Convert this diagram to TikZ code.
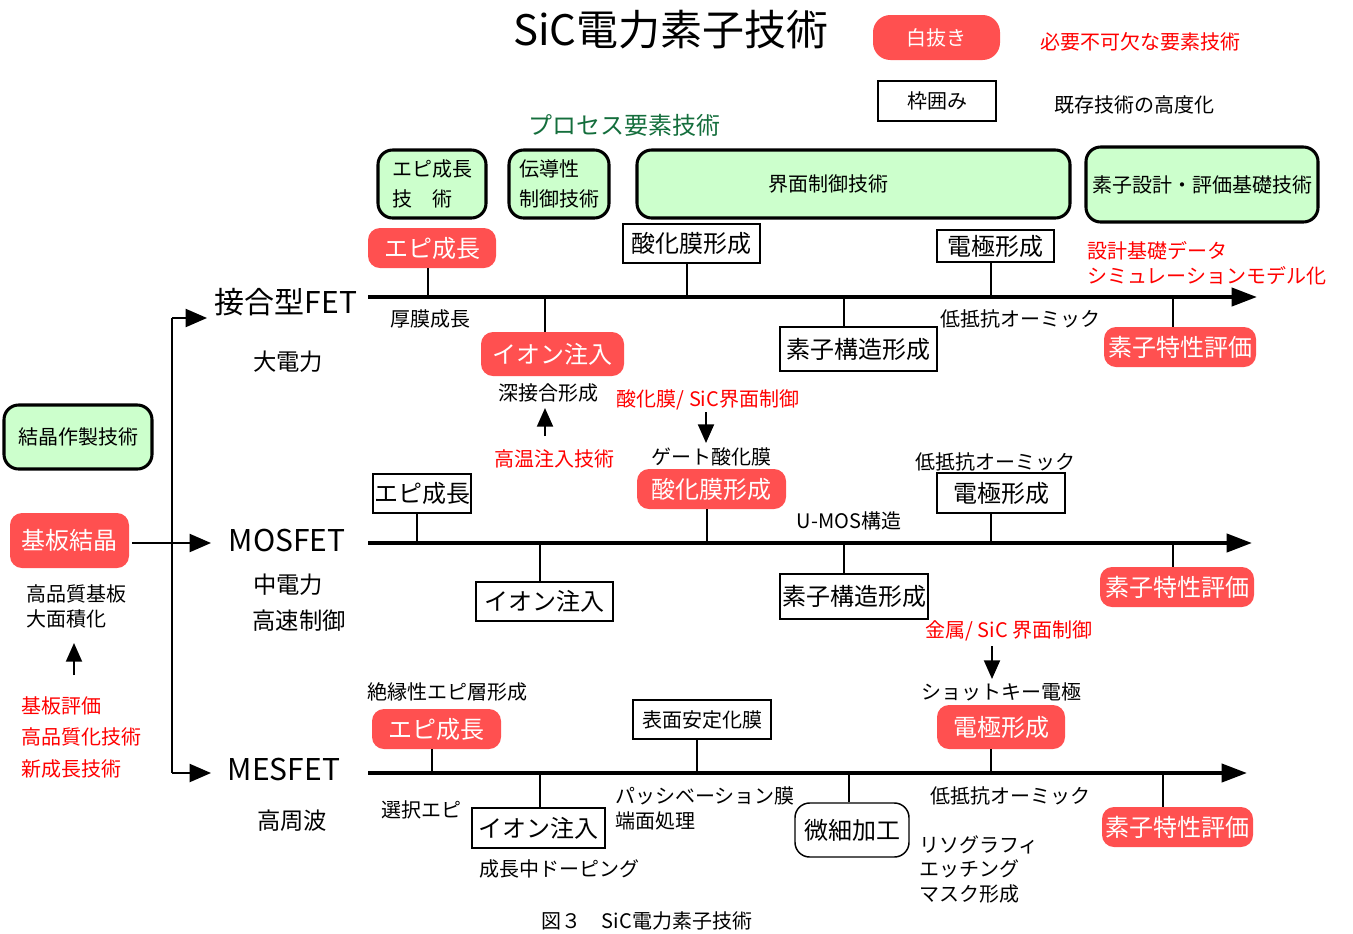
\documentclass[tikz,border=0pt]{standalone}
\usepackage{fontspec}
\setmainfont{Noto Sans CJK JP}
\usetikzlibrary{arrows.meta}
\definecolor{boxred}{RGB}{255,80,80}
\definecolor{boxgreen}{RGB}{204,255,204}
\definecolor{ttlgreen}{RGB}{20,110,60}
\definecolor{txtred}{RGB}{255,0,0}
\newcommand{\myfa}{\fontsize{15}{18.75}\selectfont}
\newcommand{\myfb}{\fontsize{18}{21}\selectfont}
\newcommand{\myfc}{\fontsize{17.5}{21}\selectfont}
\newcommand{\myfd}{\fontsize{22.5}{27}\selectfont}
\newcommand{\myft}{\fontsize{31.5}{38}\selectfont}
% \mybox{name}{style}{x1}{y1}{x2}{y2}{text}
\newcommand{\mybox}[7]{\node[#2, minimum width={(#5-#3)*0.75pt}, minimum height={(#6-#4)*0.75pt}] (#1) at ({(#3+#5)/2},{(#4+#6)/2}) {#7};}
\tikzset{
 redbox/.style={fill=boxred, text=white, rounded corners=9pt, inner sep=0pt, font=\myfb},
 plainbox/.style={draw, line width=1.1pt, fill=white, inner sep=0pt, font=\myfb},
 greenbox/.style={draw, line width=2.3pt, fill=boxgreen, rounded corners=11pt, inner sep=0pt, font=\myfa},
 lbl/.style={inner sep=0pt, font=\myfa},
 redlbl/.style={lbl, text=txtred},
 biglbl/.style={inner sep=0pt, font=\myfc},
 fetlbl/.style={inner sep=0pt, font=\myfd},
 tick/.style={line width=1.1pt},
 mainline/.style={line width=3pt, -{Triangle[length=19pt,width=13.5pt]}},
 treeline/.style={line width=1.5pt},
 treearrow/.style={line width=1.5pt, -{Triangle[length=16pt,width=13.5pt]}},
 smallarrow/.style={line width=1.5pt, -{Triangle[length=14pt,width=12pt]}},
}
\begin{document}
\begin{tikzpicture}[x=0.75pt,y=-0.75pt]
\useasboundingbox (0,0) rectangle (1353,933);

% title and legend
\node[inner sep=0pt, font=\myft] (title) at (671,30) {SiC電力素子技術};
\mybox{leg1}{redbox, font=\myfa, rounded corners=13pt}{873}{15}{1000}{60}{白抜き}
\node[redlbl] (leg1t) at (1140,42) {必要不可欠な要素技術};
\mybox{leg2}{plainbox, font=\myfa}{878}{81}{996}{121}{枠囲み}
\node[lbl] (leg2t) at (1134,105) {既存技術の高度化};
\node[lbl, text=ttlgreen, font=\myfb] (proc) at (624,125) {プロセス要素技術};

% green boxes
\mybox{g1}{greenbox, align=left, font=\fontsize{15}{22.5}\selectfont}{378}{150}{486}{218}{エピ成長\\技　術\hspace*{10pt}}
\mybox{g2}{greenbox, align=left, font=\fontsize{15}{22.5}\selectfont}{509}{150}{609}{218}{伝導性\\制御技術}
\mybox{g3}{greenbox}{637}{150}{1070}{218}{\hbox{界面制御技術\kern37.5pt}}
\mybox{g4}{greenbox}{1086}{147}{1318}{222}{素子設計・評価基礎技術}
\mybox{g5}{greenbox}{4}{405}{152}{469}{結晶作製技術}

% FET labels
\node[fetlbl] (jfet) at (286,302) {接合型FET};
\node[fetlbl] (mos) at (287,540) {MOSFET};
\node[fetlbl] (mes) at (284,769) {MESFET};
\node[biglbl] (jsub) at (288,362) {大電力};
\node[biglbl] (msub1) at (288,585) {中電力};
\node[biglbl] (msub2) at (299,621) {高速制御};
\node[biglbl] (ssub) at (292,821) {高周波};

% main lines
\coordinate (js) at (368,297); \coordinate (je) at (1257,297);
\coordinate (ms) at (368,543); \coordinate (me) at (1252,543);
\coordinate (ss) at (368,773); \coordinate (se) at (1247,773);
\draw[mainline] (js) -- (je);
\draw[mainline] (ms) -- (me);
\draw[mainline] (ss) -- (se);

% tree
\coordinate (tt) at (172,318); \coordinate (tb) at (172,773);
\coordinate (jtip) at (207,318); \coordinate (mtip) at (211,543); \coordinate (stip) at (211,773);
\mybox{kiban}{redbox}{10}{513}{129}{568}{基板結晶}
\draw[treeline] (tt) -- (tb);
\draw[treearrow] (tt) -- (jtip);
\draw[treearrow] (tb) -- (stip);
\draw[treearrow] ([xshift=2pt]kiban.east |- mtip) -- (mtip);
\node[lbl, align=left, anchor=west] (kq) at (26,606) {高品質基板\\大面積化};
\node[redlbl, align=left, anchor=west, font=\fontsize{15}{23.6}\selectfont] (kr) at (21,737) {基板評価\\高品質化技術\\新成長技術};
\coordinate (u1a) at (74,675); \coordinate (u1b) at (74,643);
\draw[smallarrow] (u1a) -- (u1b);

% junction FET row
\mybox{jepi}{redbox}{368}{228}{496}{268}{エピ成長}
\coordinate (jc1) at (428,297);
\draw[tick] (jc1) -- (jc1 |- jepi.south);
\node[lbl] (jepit) at (430,319) {厚膜成長};
\mybox{jion}{redbox}{481}{332}{624}{376}{イオン注入}
\coordinate (jc2) at (545,297);
\draw[tick] (jc2) -- (jc2 |- jion.north);
\node[lbl] (jiont) at (548,393) {深接合形成};
\coordinate (u2a) at (545,436); \coordinate (u2b) at (545,408);
\draw[smallarrow] (u2a) -- (u2b);
\node[redlbl] (jhot) at (554,459) {高温注入技術};
\mybox{jox}{plainbox}{623}{224}{760}{263}{酸化膜形成}
\coordinate (jc3) at (687,297);
\draw[tick] (jc3) -- (jc3 |- jox.south);
\mybox{jstr}{plainbox}{780}{327}{937}{371}{素子構造形成}
\coordinate (jc4) at (844,297);
\draw[tick] (jc4) -- (jc4 |- jstr.north);
\mybox{jel}{plainbox}{937}{230}{1054}{262}{電極形成}
\coordinate (jc5) at (991,297);
\draw[tick] (jc5) -- (jc5 |- jel.south);
\node[lbl] (jelt) at (1020,319) {低抵抗オーミック};
\node[redlbl, align=left, anchor=west] (jdes) at (1087,263) {設計基礎データ\\シミュレーションモデル化};
\mybox{jchar}{redbox}{1104}{327}{1256}{367}{素子特性評価}
\coordinate (jc6) at (1173,297);
\draw[tick] (jc6) -- (jc6 |- jchar.north);

% oxide interface
\node[redlbl] (oxsic) at (708,400) {酸化膜/ SiC界面制御};
\coordinate (d1a) at (706,412); \coordinate (d1b) at (706,443);
\draw[smallarrow] (d1a) -- (d1b);
\node[lbl] (gate) at (711,457) {ゲート酸化膜};

% MOSFET row
\mybox{mepi}{plainbox}{373}{474}{471}{513}{エピ成長}
\coordinate (mc1) at (417,543);
\draw[tick] (mc1) -- (mc1 |- mepi.south);
\mybox{mion}{plainbox}{476}{582}{613}{621}{イオン注入}
\coordinate (mc2) at (540,543);
\draw[tick] (mc2) -- (mc2 |- mion.north);
\mybox{mox}{redbox}{637}{469}{786}{509}{酸化膜形成}
\coordinate (mc3) at (707,543);
\draw[tick] (mc3) -- (mc3 |- mox.south);
\node[lbl] (umos) at (849,521) {U-MOS構造};
\mybox{mstr}{plainbox}{780}{574}{928}{619}{素子構造形成}
\coordinate (mc4) at (844,543);
\draw[tick] (mc4) -- (mc4 |- mstr.north);
\node[lbl] (melt) at (995,462) {低抵抗オーミック};
\mybox{mel}{plainbox}{937}{473}{1065}{513}{電極形成}
\coordinate (mc5) at (991,543);
\draw[tick] (mc5) -- (mc5 |- mel.south);
\mybox{mchar}{redbox}{1100}{567}{1254}{607}{素子特性評価}
\coordinate (mc6) at (1173,543);
\draw[tick] (mc6) -- (mc6 |- mchar.north);
\node[redlbl] (msic) at (1009,631) {金属/ SiC 界面制御};
\coordinate (d2a) at (992,646); \coordinate (d2b) at (992,679);
\draw[smallarrow] (d2a) -- (d2b);
\node[lbl] (schot) at (1001,692) {ショットキー電極};

% MESFET row
\node[lbl] (sins) at (447,692) {絶縁性エピ層形成};
\mybox{sepi}{redbox}{372}{709}{501}{749}{エピ成長}
\coordinate (sc1) at (432,773);
\draw[tick] (sc1) -- (sc1 |- sepi.south);
\mybox{ssurf}{plainbox, font=\myfa}{633}{700}{771}{739}{表面安定化膜}
\coordinate (sc2) at (697,773);
\draw[tick] (sc2) -- (sc2 |- ssurf.south);
\mybox{sel}{redbox}{937}{705}{1065}{749}{電極形成}
\coordinate (sc3) at (991,773);
\draw[tick] (sc3) -- (sc3 |- sel.south);
\node[lbl] (ssel) at (421,810) {選択エピ};
\mybox{sion}{plainbox}{472}{808}{605}{848}{イオン注入}
\coordinate (sc4) at (540,773);
\draw[tick] (sc4) -- (sc4 |- sion.north);
\node[lbl] (sdop) at (559,869) {成長中ドーピング};
\node[lbl, align=left, anchor=west] (spas) at (615,808) {パッシベーション膜\\端面処理};
\mybox{sfine}{plainbox, rounded corners=11pt}{795}{803}{909}{857}{微細加工}
\coordinate (sc5) at (849,773);
\draw[tick] (sc5) -- (sc5 |- sfine.north);
\node[lbl] (selt) at (1010,796) {低抵抗オーミック};
\node[lbl, align=left, anchor=west, font=\fontsize{15}{18.4}\selectfont] (slith) at (919,869) {リソグラフィ\\エッチング\\マスク形成};
\mybox{schar}{redbox}{1102}{807}{1253}{847}{素子特性評価}
\coordinate (sc6) at (1163,773);
\draw[tick] (sc6) -- (sc6 |- schar.north);

% caption
\node[lbl] (cap) at (647,921) {図３　SiC電力素子技術};
\end{tikzpicture}
\end{document}
